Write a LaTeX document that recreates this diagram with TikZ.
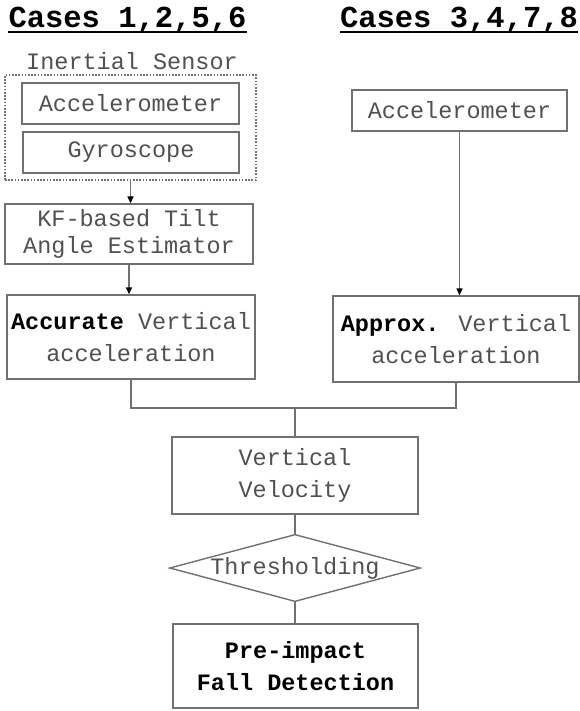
\documentclass[tikz,border=0pt]{standalone}
\usepackage{fontspec}
\setmainfont{Liberation Mono}
\usetikzlibrary{shapes.geometric,arrows.meta}
\definecolor{linegray}{HTML}{707070}
\definecolor{txtgray}{HTML}{505050}
\newcommand{\bk}[1]{\textcolor{black}{\textbf{#1}}}
\tikzset{
  box/.style={draw=linegray, line width=1.4pt, text=txtgray, inner sep=0pt,
    align=center, font=\fontsize{23.5}{32}\selectfont},
  heading/.style={inner sep=0pt, anchor=base, font=\fontsize{30.5}{36}\selectfont\bfseries},
  conn/.style={draw=linegray, line width=1.4pt},
  arr/.style={conn, -{Triangle[length=7pt,width=6pt,color=black]}}
}
\begin{document}
\begin{tikzpicture}[x=1pt,y=-1pt]
    \useasboundingbox (0,0) rectangle (580,711);
    %% headings
    \node[heading] (casesL) at (127.5,28) {Cases 1,2,5,6};
    \node[heading] (casesR) at (459,28) {Cases 3,4,7,8};
    \draw[line width=2pt] ([yshift=-4pt]casesL.base west) -- ([yshift=-4pt]casesL.base east);
    \draw[line width=2pt] ([yshift=-4pt]casesR.base west) -- ([yshift=-4pt]casesR.base east);
    %% inertial sensor
    \node[box, draw=none, anchor=base] (senslabel) at (132,70) {Inertial Sensor};
    \node[box, dash pattern=on 1.6pt off 1.6pt, minimum width=251pt, minimum height=105pt] (sensor) at (130.5,127.5) {};
    \node[box, minimum width=217pt, minimum height=41pt] (accL) at (130.5,103.5) {Accelerometer};
    \node[box, minimum width=216pt, minimum height=41pt] (gyro) at (131,152.5) {Gyroscope};
    %% left branch
    \node[box, minimum width=248pt, minimum height=60pt, font=\fontsize{23.5}{27}\selectfont] (kf) at (129,234) {KF-based Tilt\\Angle Estimator};
    \node[box, minimum width=248pt, minimum height=84pt] (accur) at (131,337) {\bk{Accurate} Vertical\\acceleration};
    %% right branch
    \node[box, minimum width=215pt, minimum height=41pt] (accR) at (459.5,110.5) {Accelerometer};
    \node[box, minimum width=246pt, minimum height=86pt] (approx) at (456,339) {\bk{Approx.} Vertical\\acceleration};
    %% common part
    \coordinate (join) at (295,408);
    \node[box, minimum width=246pt, minimum height=77pt] (vv) at (295,475.5) {Vertical\\Velocity};
    \node[box, shape=diamond, aspect=3.73, minimum width=250pt] (thr) at (295,568) {Thresholding};
    \node[box, minimum width=245pt, minimum height=84pt] (fall) at (295.5,666) {\bk{Pre-impact}\\\bk{Fall Detection}};
    %% connectors
    \draw[arr] (sensor.south) -- (sensor.south |- kf.north);
    \draw[arr] (kf.south) -- (kf.south |- accur.north);
    \draw[arr] (accR.south) -- (accR.south |- approx.north);
    \draw[conn] (accur.south) |- (join) -| (approx.south);
    \draw[conn] (join) -- (join |- vv.north);
    \draw[conn] (vv.south) -- (vv.south |- thr.north);
    \draw[conn] (thr.south) -- (thr.south |- fall.north);
\end{tikzpicture}
\end{document}
